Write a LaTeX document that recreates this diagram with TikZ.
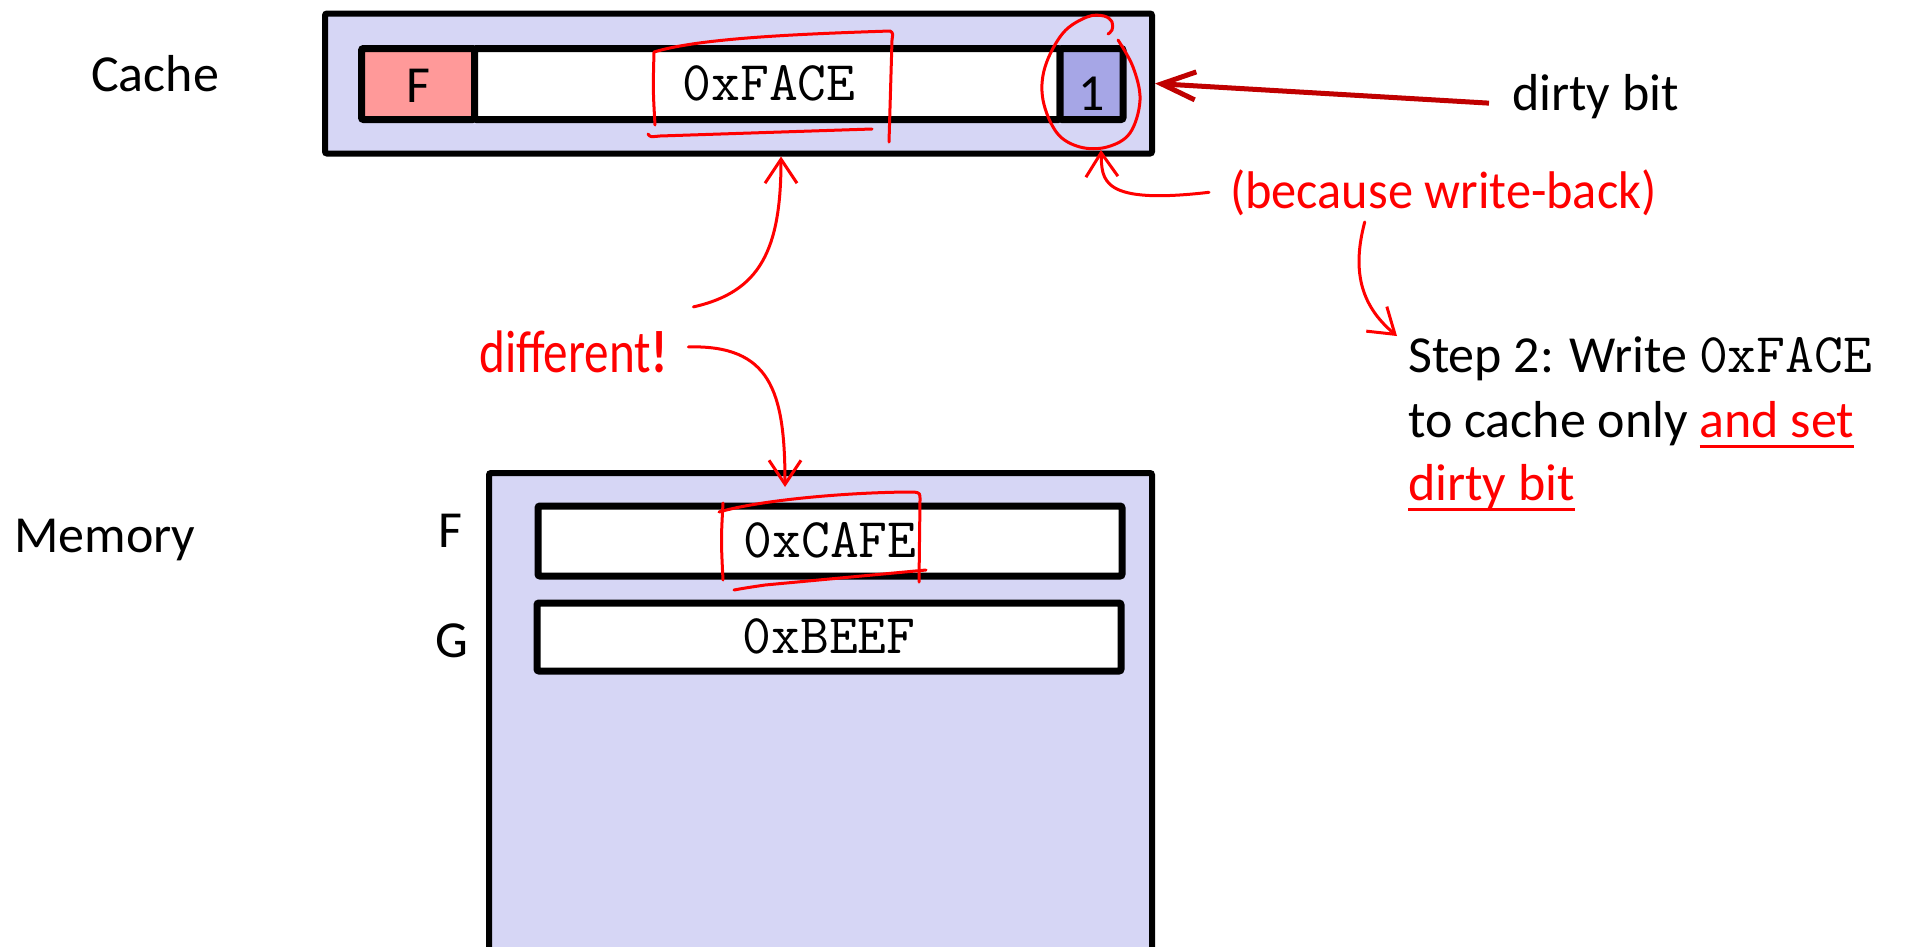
\documentclass[tikz,border=0pt]{standalone}
\usepackage{fontspec}
\setmainfont{Carlito}
\usetikzlibrary{arrows.meta,calc}

\definecolor{boxfill}{RGB}{214,214,245}
\definecolor{tagfill}{RGB}{255,153,153}
\definecolor{bitfill}{RGB}{166,166,230}
\definecolor{darkred}{RGB}{192,0,0}
\definecolor{pen}{RGB}{255,0,0}

% thick red underline below a piece of text
\newcommand\ulred[1]{\setbox0=\hbox{#1}\rlap{\color{pen}\rule[-10.5pt]{\wd0}{3pt}}\box0}

\tikzset{
  frame/.style={draw=black, fill=boxfill, line width=6pt, rounded corners=2pt, inner sep=0pt},
  cell/.style={draw=black, line width=7pt, rounded corners=2pt, inner sep=0pt, minimum height=71pt},
  lbl/.style={font=\fontsize{52}{62}\selectfont, inner sep=0pt, anchor=base west},
  hex/.style={font=\ttfamily\fontsize{56}{64}\selectfont, inner sep=0pt, anchor=base},
  hand/.style={text=pen, inner sep=0pt, anchor=base west},
  ink/.style={draw=pen, line width=3pt, line cap=round, line join=round},
  inkarrow/.style={ink, -{Straight Barb[length=24pt,width=32pt]}},
}

\begin{document}
\begin{tikzpicture}[x=1pt,y=-1pt]
\useasboundingbox (0,0) rectangle (1908,946);
\clip (0,0) rectangle (1908,946);
\fill[white] (0,0) rectangle (1908,946);

% ---- cache line ----
\node[frame, minimum width=827pt, minimum height=140pt] (cache) at (738.5,83.5) {};
\node[cell, fill=tagfill, minimum width=113pt] (tag) at (418,84) {};
\node[cell, fill=white, minimum width=585.5pt] (data) at (767.25,84) {};
\node[cell, fill=bitfill, minimum width=63pt] (bit) at (1091.5,84) {};
\node[lbl, anchor=base] (tagtxt) at (418,102) {F};
\node[hex] (facetxt) at (769,100) {0xFACE};
\node[lbl, anchor=base] (bittxt) at (1092,110) {1};

% ---- memory ----
\node[frame, minimum width=663pt, minimum height=540pt] (mem) at (820.5,743) {};
\node[cell, fill=white, minimum width=584pt, minimum height=70pt] (rowF) at (830,541) {};
\node[cell, fill=white, minimum width=584pt, minimum height=68pt] (rowG) at (829,637) {};
\node[hex] (cafe) at (830,557) {0xCAFE};
\node[hex] (beef) at (829,653) {0xBEEF};
\node[lbl, anchor=base east] (addrF) at (463,547) {F};
\node[lbl, anchor=base east] (addrG) at (468,657) {G};

% ---- labels ----
\node[lbl] (cachelbl) at (91,91) {Cache};
\node[lbl] (memlbl) at (14,552) {Memory};
\node[lbl] (dirtylbl) at (1512,110) {dirty bit};
\draw[darkred, line width=5pt, -{Straight Barb[length=34pt,width=28pt]}]
  ($(dirtylbl.west)+(-23,7)$) -- (cache.east);

\node[lbl] (step1) at (1408,372) {Step 2: Write {\ttfamily\fontsize{56}{64}\selectfont 0xFACE}};
\node[lbl] (step2) at (1408,437) {to cache only \ulred{\color{pen}and set}};
\node[lbl] (step3) at (1408,500) {\ulred{\color{pen}dirty bit}};

% ---- pen annotations ----
\node[hand] (diff) at (479,372)
  {\scalebox{0.82}[1]{\fontsize{60}{70}\selectfont different\textbf{!}}};
\node[hand] (because) at (1230,208)
  {\scalebox{0.95}[1]{\fontsize{53}{62}\selectfont (because write-back)}};

% box round the new cached value
\draw[ink] (655,125) .. controls (653,90) .. (654,52)
  .. controls (700,38) and (800,34) .. (890,31)
  .. controls (893,33) .. (892,40) -- (889,142);
\draw[ink] (648,134) .. controls (650,137) .. (660,136) -- (872,129);

% box round the stale memory value
\draw[ink] (723,580) .. controls (721,540) .. (723,503);
\draw[ink] (719,512) .. controls (760,500) and (850,492) .. (914,492)
  .. controls (920,493) .. (920,500) -- (919,582);
\draw[ink] (734,590) .. controls (745,588) .. (765,585) -- (926,570);

% loop round the dirty bit
\draw[ink] plot[smooth, tension=0.6] coordinates {
  (1118,40) (1133,67) (1140,100) (1130,133) (1107,147) (1080,147)
  (1057,133) (1043,100) (1045,67) (1063,33) (1087,17) (1104,16)
  (1112,22) (1112,30) (1108,34)};

% arrows from the notes
\draw[inkarrow] ($(diff.east)+(26,-44.5)$) .. controls (760,292) and (781,250) .. ($(cache.south)+(42.5,0)$);
\draw[inkarrow] ($(diff.east)+(21,-4.5)$) .. controls (770,345) and (785,390) .. ($(mem.north)+(-35.5,17)$);
\draw[inkarrow] ($(because.west)+(-21,0)$) .. controls (1100,205) and (1102,180) .. ($(bit.south)+(9.5,27)$);
\draw[inkarrow] ($(because.south)+(-78.6,6.4)$) .. controls (1352,270) and (1360,305) .. ($(step1.north west)+(-11,0)$);
\end{tikzpicture}
\end{document}
